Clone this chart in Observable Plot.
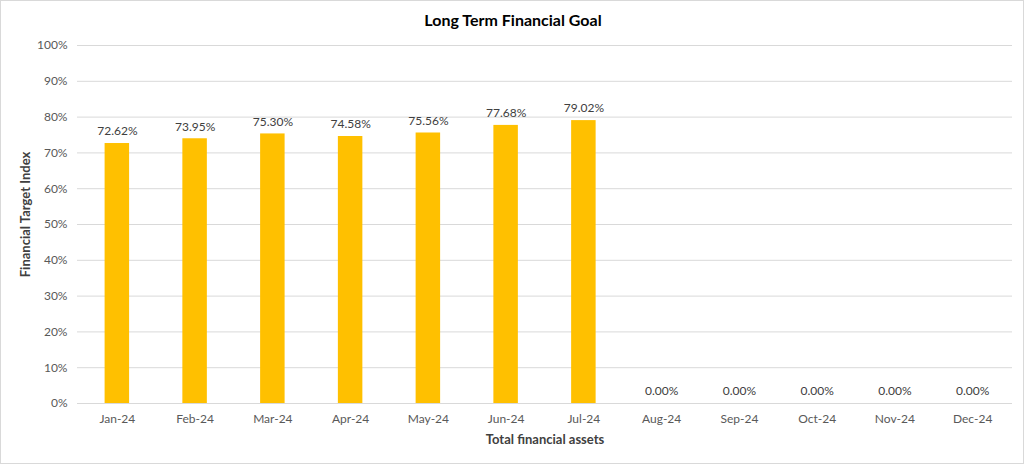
<!DOCTYPE html>
<html>
<head>
<meta charset="utf-8">
<script src="https://cdn.jsdelivr.net/npm/d3@7"></script>
<script src="https://cdn.jsdelivr.net/npm/@observablehq/plot@0.6"></script>
<style>
  html, body { margin: 0; padding: 0; background: #ffffff; }
  #chart {
    width: 1022px; height: 462px;
    border: 1px solid #d9d9d9;
    background: #ffffff;
    font-family: Lato, "Open Sans", sans-serif;
  }
  #chart svg { display: block; }
</style>
</head>
<body>
<div id="chart"></div>
<script>
// Monthly financial target index (share of the long-term goal reached)
const months = ["Jan-24","Feb-24","Mar-24","Apr-24","May-24","Jun-24","Jul-24","Aug-24","Sep-24","Oct-24","Nov-24","Dec-24"];
const indexValues = [0.7262, 0.7395, 0.7530, 0.7458, 0.7556, 0.7768, 0.7902, 0, 0, 0, 0, 0];
const yTicks = [0, 0.1, 0.2, 0.3, 0.4, 0.5, 0.6, 0.7, 0.8, 0.9, 1.0];

const rows = months.map((m, i) => ({month: m, value: indexValues[i]}));
const pct2 = d3.format(".2%");

const chart = Plot.plot({
  width: 1022,
  height: 462,
  marginTop: 44,
  marginBottom: 60,
  marginLeft: 76,
  marginRight: 11,
  style: {fontFamily: "Lato, 'Open Sans', sans-serif", fontSize: "12px", color: "#595959", background: "#ffffff"},
  x: {domain: months, paddingInner: 0.685, paddingOuter: 0.355, round: false, label: null},
  y: {domain: [0, 1], label: null},
  marks: [
    Plot.gridY(yTicks, {stroke: "#d9d9d9", strokeOpacity: 1, strokeWidth: 1}),
    Plot.barY(rows, {x: "month", y: "value", fill: "#ffc000"}),
    Plot.text(rows, {
      x: "month", y: "value", text: d => pct2(d.value),
      dy: -12, fill: "#404040", fontSize: 12
    }),
    Plot.axisY(yTicks, {tickSize: 0, tickPadding: 10, tickFormat: d3.format(".0%"), fill: "#595959", fontSize: 12, label: null}),
    Plot.axisX({tickSize: 0, tickPadding: 11, fill: "#595959", fontSize: 12, label: null}),
    // chart title, centred on the whole chart width
    Plot.text(["Long Term Financial Goal"], {
      frameAnchor: "top", dx: -32, dy: -31, fontWeight: "bold", fontSize: 16, fill: "#000000"
    }),
    // axis titles
    Plot.text(["Financial Target Index"], {
      frameAnchor: "left", textAnchor: "middle", dx: -52, dy: -10, rotate: -90,
      fontWeight: "bold", fontSize: 13, fill: "#404040"
    }),
    Plot.text(["Total financial assets"], {
      frameAnchor: "bottom", dy: 40, fontWeight: "bold", fontSize: 13, fill: "#404040"
    })
  ]
});

document.getElementById("chart").appendChild(chart);
</script>
</body>
</html>
